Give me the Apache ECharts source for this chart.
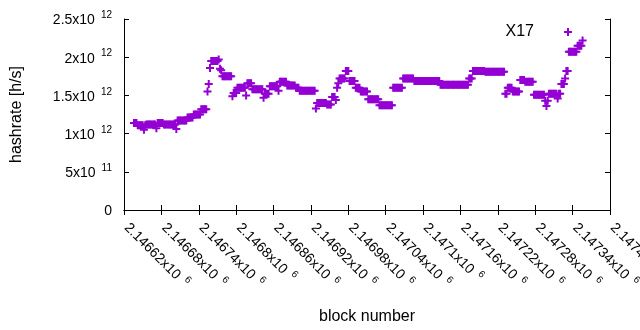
<!DOCTYPE html>
<html><head><meta charset="utf-8">
<script src="https://cdn.jsdelivr.net/npm/echarts@6/dist/echarts.min.js"></script>
<style>html,body{margin:0;padding:0;background:#fff}#c{width:640px;height:330px}</style>
</head><body><div id="c"></div>
<script>
const seriesName = 'X17';
const firstBlock = 2146636;
const blockStep = 2;
// hashrate in units of 10^12 h/s, one value per blockStep blocks
const hashrateE12 = [
1.14,1.14,1.14,1.11,1.11,1.11,1.11,1.11,1.05,1.11,
1.12,1.12,1.12,1.12,1.12,1.12,1.12,1.12,1.07,
1.14,1.14,1.14,1.14,1.14,
1.12,1.12,1.12,1.12,1.12,1.12,1.12,1.12,1.12,1.12,1.06,
1.17,1.17,1.17,1.17,1.17,1.17,1.17,1.17,
1.21,1.21,1.21,1.21,1.21,
1.25,1.25,1.25,1.25,1.25,1.25,
1.32,1.32,1.32,1.32,1.32,
1.55,1.65,1.86,
1.95,1.95,1.95,1.95,1.95,1.95,1.97,
1.85,1.83,
1.75,1.75,1.75,1.75,1.75,1.75,1.75,1.75,
1.49,1.53,1.53,1.53,
1.6,1.6,1.6,1.6,1.6,1.6,1.6,1.5,
1.66,1.66,1.66,1.66,
1.58,1.58,1.58,1.58,1.58,1.58,1.58,1.58,1.58,1.47,
1.52,1.52,1.52,1.52,
1.62,1.62,1.62,1.62,1.62,1.62,1.62,1.56,
1.68,1.68,1.68,1.68,1.68,1.68,
1.63,1.63,1.63,1.63,1.63,1.63,1.63,
1.6,1.6,1.6,
1.56,1.56,1.56,1.56,1.56,1.56,1.56,1.56,1.56,1.56,1.56,1.56,1.56,1.33,
1.4,1.4,1.4,1.4,1.4,1.4,1.4,1.4,
1.38,1.38,1.38,1.38,
1.48,1.48,1.48,1.44,1.6,1.66,
1.72,1.72,1.72,1.72,1.72,
1.82,1.82,1.82,
1.69,1.69,1.69,1.69,1.69,
1.6,1.6,1.6,1.6,
1.55,1.55,1.55,1.55,1.55,1.55,
1.45,1.45,1.45,1.45,1.45,1.45,1.45,1.45,1.45,
1.37,1.37,1.37,1.37,1.37,1.37,1.37,1.37,1.37,1.37,1.37,
1.6,1.6,1.6,1.6,1.6,1.6,1.6,1.6,
1.72,1.72,1.72,1.72,1.72,1.72,1.72,1.72,1.72,
1.69,1.69,1.69,1.69,1.69,1.69,1.69,1.69,1.69,1.69,1.69,1.69,1.69,1.69,1.69,1.69,1.69,1.69,1.69,1.69,1.69,
1.64,1.64,1.64,1.64,1.64,1.64,1.64,1.64,1.64,1.64,1.64,1.64,1.64,1.64,1.64,1.64,1.64,1.64,1.64,1.64,1.64,1.64,1.64,
1.72,1.72,1.72,
1.82,1.82,1.82,1.82,1.82,1.82,1.82,1.82,1.82,1.82,
1.81,1.81,1.81,1.81,1.81,1.81,1.81,1.81,1.81,1.81,1.81,1.81,1.81,1.81,1.81,1.81,
1.52,1.52,
1.6,1.6,1.6,1.6,
1.55,1.55,1.55,1.55,1.55,1.55,
1.7,1.7,1.7,1.7,
1.68,1.68,1.68,1.68,1.68,1.68,1.68,
1.51,1.51,1.51,1.51,1.51,1.51,1.51,1.51,1.51,
1.43,1.36,1.43,
1.52,1.52,1.52,1.52,1.52,1.52,1.52,1.46,1.52,1.52,
1.65,1.65,1.65,1.72,1.82,1.82,
2.07,2.07,2.07,2.07,2.07,2.07,2.07,
2.15,2.15,2.15,2.15,2.22
];
const xMin = 2146620, xMax = 2147400, xStep = 60;
const yMin = 0, yMax = 2.5, yStep = 0.5;
const xTitle = 'block number';
const yTitle = 'hashrate [h/s]';

const F = '"Liberation Sans", Arial, sans-serif';
const PURPLE = '#9400d3';
const plusPath = 'path://M0,3H3V0H5V3H8V5H5V8H3V5H0Z';
const rich = {
  b: {fontSize: 14, lineHeight: 17, verticalAlign: 'bottom', color: '#000', fontFamily: F},
  xb: {fontSize: 14, lineHeight: 17, verticalAlign: 'bottom', color: '#000', fontFamily: F, padding: [0, 0, 0, 5]},
  s: {fontSize: 10, lineHeight: 10, verticalAlign: 'top', color: '#000', fontFamily: F, padding: [0, 0, 0, 6]}
};
function yFmt(v) {
  if (v === 0) return '{b|0}';
  if (Math.abs(v - 0.5) < 1e-9) return '{b|5x10}{s|11}';
  return '{b|' + (+v.toFixed(2)) + 'x10}{s|12}';
}
function xFmt(v) {
  return '{xb|' + (+(v / 1e6).toFixed(5)) + 'x10}{s|6}';
}
const data = hashrateE12.map((h, i) => [firstBlock + i * blockStep, h]);

const chart = echarts.init(document.getElementById('c'), null, {renderer: 'canvas'});
const axisLine = {show: true, lineStyle: {color: '#000', width: 1}};
const tick = {show: true, inside: true, length: 5, lineStyle: {color: '#000', width: 1}};
chart.setOption({
  animation: false,
  backgroundColor: '#fff',
  grid: {left: 124, right: 30, top: 19, bottom: 120, containLabel: false, outerBoundsMode: 'none'},
  legend: {
    data: [seriesName], right: 68, top: 24, padding: 0, align: 'right',
    itemWidth: 58, itemHeight: 8, symbolKeepAspect: true,
    icon: plusPath,
    textStyle: {fontSize: 16, fontFamily: F, color: '#000'}
  },
  xAxis: [{
    type: 'value', position: 'bottom', min: xMin, max: xMax, interval: xStep,
    axisLine, axisTick: tick, splitLine: {show: false},
    axisLabel: {rotate: -45, margin: 11, formatter: xFmt, rich, showMaxLabel: true, showMinLabel: true, hideOverlap: false},
    name: xTitle, nameLocation: 'middle', nameGap: 99,
    nameTextStyle: {fontSize: 16, fontFamily: F, color: '#000'}
  }, {
    type: 'value', position: 'top', min: xMin, max: xMax, interval: xStep,
    axisLine, axisTick: tick, splitLine: {show: false}, axisLabel: {show: false}
  }],
  yAxis: [{
    type: 'value', position: 'left', min: yMin, max: yMax, interval: yStep,
    axisLine, axisTick: tick, splitLine: {show: false},
    axisLabel: {margin: 12, formatter: yFmt, rich},
    name: yTitle, nameLocation: 'middle', nameGap: 99,
    nameTextStyle: {fontSize: 16, fontFamily: F, color: '#000'}
  }, {
    type: 'value', position: 'right', min: yMin, max: yMax, interval: yStep,
    axisLine, axisTick: tick, splitLine: {show: false}, axisLabel: {show: false}
  }],
  series: [{
    name: seriesName, type: 'scatter', xAxisIndex: 0, yAxisIndex: 0,
    symbol: plusPath, symbolSize: 8,
    itemStyle: {color: PURPLE, opacity: 1},
    emphasis: {disabled: true},
    data
  }]
});
</script></body></html>
